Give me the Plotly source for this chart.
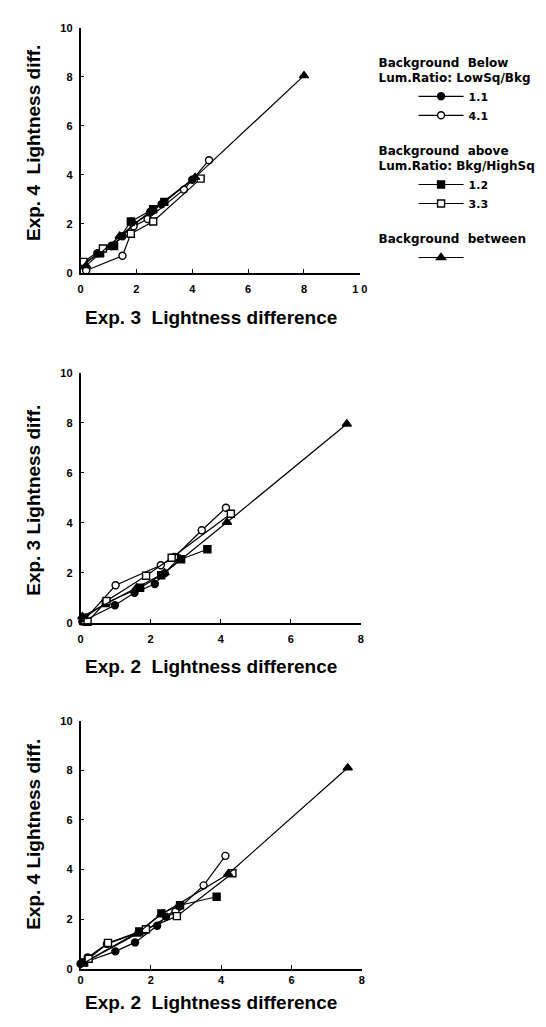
import plotly.graph_objects as go

# ---------------- data ----------------
# Panel 1: Exp. 3 (x) vs Exp. 4 (y)
p1_below11_x = [0.1, 0.6, 1.1, 1.5, 1.9, 2.5, 2.9, 4.0]
p1_below11_y = [0.3, 0.8, 1.1, 1.5, 2.0, 2.5, 2.8, 3.8]
p1_below41_x = [0.2, 1.5, 1.9, 2.4, 3.7, 4.6]
p1_below41_y = [0.1, 0.7, 1.9, 2.2, 3.4, 4.6]
p1_above12_x = [0.1, 0.7, 1.2, 1.8, 2.6, 3.0]
p1_above12_y = [0.4, 0.8, 1.1, 2.1, 2.6, 2.9]
p1_above33_x = [0.1, 0.8, 1.8, 2.6, 4.3]
p1_above33_y = [0.45, 1.0, 1.6, 2.1, 3.85]
p1_between_x = [0.2, 1.4, 2.5, 4.1, 8.0]
p1_between_y = [0.3, 1.5, 2.5, 3.9, 8.05]

# Panel 2: Exp. 2 (x) vs Exp. 3 (y)
p2_below11_x = [0.05, 0.98, 1.54, 2.12, 2.4, 2.8]
p2_below11_y = [0.05, 0.7, 1.2, 1.55, 1.98, 2.58]
p2_below41_x = [0.1, 1.0, 2.29, 2.68, 3.46, 4.15]
p2_below41_y = [0.1, 1.5, 2.3, 2.63, 3.7, 4.6]
p2_above12_x = [0.1, 0.72, 1.7, 2.3, 2.87, 3.62]
p2_above12_y = [0.2, 0.79, 1.4, 1.9, 2.54, 2.94]
p2_above33_x = [0.2, 0.74, 1.87, 2.6, 4.29]
p2_above33_y = [0.04, 0.87, 1.88, 2.6, 4.36]
p2_between_x = [0.05, 1.6, 2.4, 4.18, 7.6]
p2_between_y = [0.25, 1.4, 2.0, 4.02, 7.95]

# Panel 3: Exp. 2 (x) vs Exp. 4 (y)
p3_below11_x = [0.0, 0.99, 1.55, 2.18, 2.43, 2.8]
p3_below11_y = [0.2, 0.7, 1.06, 1.73, 2.1, 2.5]
p3_below41_x = [0.2, 0.75, 1.85, 2.7, 3.5, 4.12]
p3_below41_y = [0.45, 1.0, 1.55, 2.3, 3.36, 4.55]
p3_above12_x = [0.1, 1.67, 2.3, 2.83, 3.87]
p3_above12_y = [0.25, 1.5, 2.23, 2.56, 2.9]
p3_above33_x = [0.23, 0.78, 1.86, 2.74, 4.32]
p3_above33_y = [0.4, 1.04, 1.59, 2.12, 3.85]
p3_between_x = [0.05, 1.6, 2.3, 4.2, 7.6]
p3_between_y = [0.2, 1.4, 2.2, 3.82, 8.1]

series_names = ["1.1", "4.1", "1.2", "3.3", ""]
group_titles = ["Background  Below<br>Lum.Ratio: LowSq/Bkg",
                "Background  above<br>Lum.Ratio: Bkg/HighSq",
                "Background  between"]

x_titles = ["Exp. 3  Lightness difference", "Exp. 2  Lightness difference",
            "Exp. 2  Lightness difference"]
y_titles = ["Exp. 4  Lightness diff.", "Exp. 3 Lightness diff.",
            "Exp. 4 Lightness diff."]
x_ranges = [[0, 10], [0, 8], [0, 8]]
y_range = [0, 10]
tick_vals_x = [[0, 2, 4, 6, 8, 10], [0, 2, 4, 6, 8], [0, 2, 4, 6, 8]]
tick_text_x = [["0", "2", "4", "6", "8", "1 0"], ["0", "2", "4", "6", "8"], ["0", "2", "4", "6", "8"]]
tick_vals_y = [0, 2, 4, 6, 8, 10]

# ---------------- styling ----------------
W, H = 546, 1027
FONT = "Liberation Sans"
styles = [
    dict(symbol="circle", fill="black", group="g1"),
    dict(symbol="circle", fill="white", group="g1"),
    dict(symbol="square", fill="black", group="g2"),
    dict(symbol="square", fill="white", group="g2"),
    dict(symbol="triangle-up", fill="black", group="g3"),
]
group_title_for = {"g1": group_titles[0], "g2": group_titles[1], "g3": group_titles[2]}

panels = [
    [(p1_below11_x, p1_below11_y), (p1_below41_x, p1_below41_y), (p1_above12_x, p1_above12_y),
     (p1_above33_x, p1_above33_y), (p1_between_x, p1_between_y)],
    [(p2_below11_x, p2_below11_y), (p2_below41_x, p2_below41_y), (p2_above12_x, p2_above12_y),
     (p2_above33_x, p2_above33_y), (p2_between_x, p2_between_y)],
    [(p3_below11_x, p3_below11_y), (p3_below41_x, p3_below41_y), (p3_above12_x, p3_above12_y),
     (p3_above33_x, p3_above33_y), (p3_between_x, p3_between_y)],
]

# pixel boxes of plot areas (left, right, top, bottom)
boxes = [(71, 356, 14, 262), (71, 357, 363, 616), (71, 358, 715, 966)]
standoffs = [5, 5, 0]
xt_centers = [307, 660, 1000]
yt_centers = [131, 492, 830]

fig = go.Figure()
for pi, series in enumerate(panels):
    xa = "x" if pi == 0 else f"x{pi+1}"
    ya = "y" if pi == 0 else f"y{pi+1}"
    for si, (xs, ys) in enumerate(series):
        st = styles[si]
        fig.add_trace(go.Scatter(
            x=xs, y=ys, xaxis=xa, yaxis=ya, mode="lines+markers",
            name=series_names[si],
            legendgroup=st["group"],
            legendgrouptitle=dict(text=group_title_for[st["group"]]) if si in (0, 2, 4) else None,
            showlegend=(pi == 0),
            cliponaxis=False,
            line=dict(color="black", width=1.2),
            marker=dict(symbol=st["symbol"], size=7 if si != 4 else 8,
                        color=st["fill"],
                        line=dict(color="black", width=1.4)),
        ))

layout = dict(
    width=W, height=H, margin=dict(l=0, r=0, t=0, b=0),
    paper_bgcolor="white", plot_bgcolor="white",
    font=dict(family=FONT, color="black", size=11, weight="bold"),
    legend=dict(x=370 / W, y=1 - 34 / H, xanchor="left", yanchor="top",
                bgcolor="rgba(0,0,0,0)", tracegroupgap=16, itemwidth=45,
                font=dict(family="DejaVu Sans", size=11, weight="bold"),
                grouptitlefont=dict(family="DejaVu Sans", size=12, weight="bold"),
                indentation=40),
    showlegend=True,
)
annotations = []
for pi in range(3):
    l, r, t, b = boxes[pi]
    sfx = "" if pi == 0 else str(pi + 1)
    xdom = [l / W, r / W]
    ydom = [1 - b / H, 1 - t / H]
    layout[f"xaxis{sfx}"] = dict(
        domain=xdom, range=x_ranges[pi], anchor=f"y{sfx}",
        tickvals=tick_vals_x[pi], ticktext=tick_text_x[pi],
        showline=True, linecolor="black", linewidth=1.5, mirror=False,
        ticks="inside", ticklen=4, tickcolor="black", showgrid=False, zeroline=False,
        tickfont=dict(family=FONT, size=11, weight="bold"), ticklabelstandoff=standoffs[pi],
    )
    layout[f"yaxis{sfx}"] = dict(
        domain=ydom, range=y_range, anchor=f"x{sfx}",
        tickvals=tick_vals_y,
        showline=True, linecolor="black", linewidth=1.5, mirror=False,
        ticks="inside", ticklen=4, tickcolor="black", showgrid=False, zeroline=False,
        tickfont=dict(family=FONT, size=11, weight="bold"), ticklabelstandoff=4,
    )
    annotations.append(dict(text=x_titles[pi], xref="paper", yref="paper",
                            x=(l + 2) / W, y=1 - xt_centers[pi] / H, showarrow=False,
                            xanchor="left", yanchor="middle",
                            font=dict(family=FONT, size=19, weight="bold")))
    annotations.append(dict(text=y_titles[pi], xref="paper", yref="paper",
                            x=23 / W, y=1 - yt_centers[pi] / H, showarrow=False, textangle=-90,
                            xanchor="center", yanchor="middle",
                            font=dict(family=FONT, size=19, weight="bold")))
layout["annotations"] = annotations
fig.update_layout(**layout)
fig.write_html("out.html")
